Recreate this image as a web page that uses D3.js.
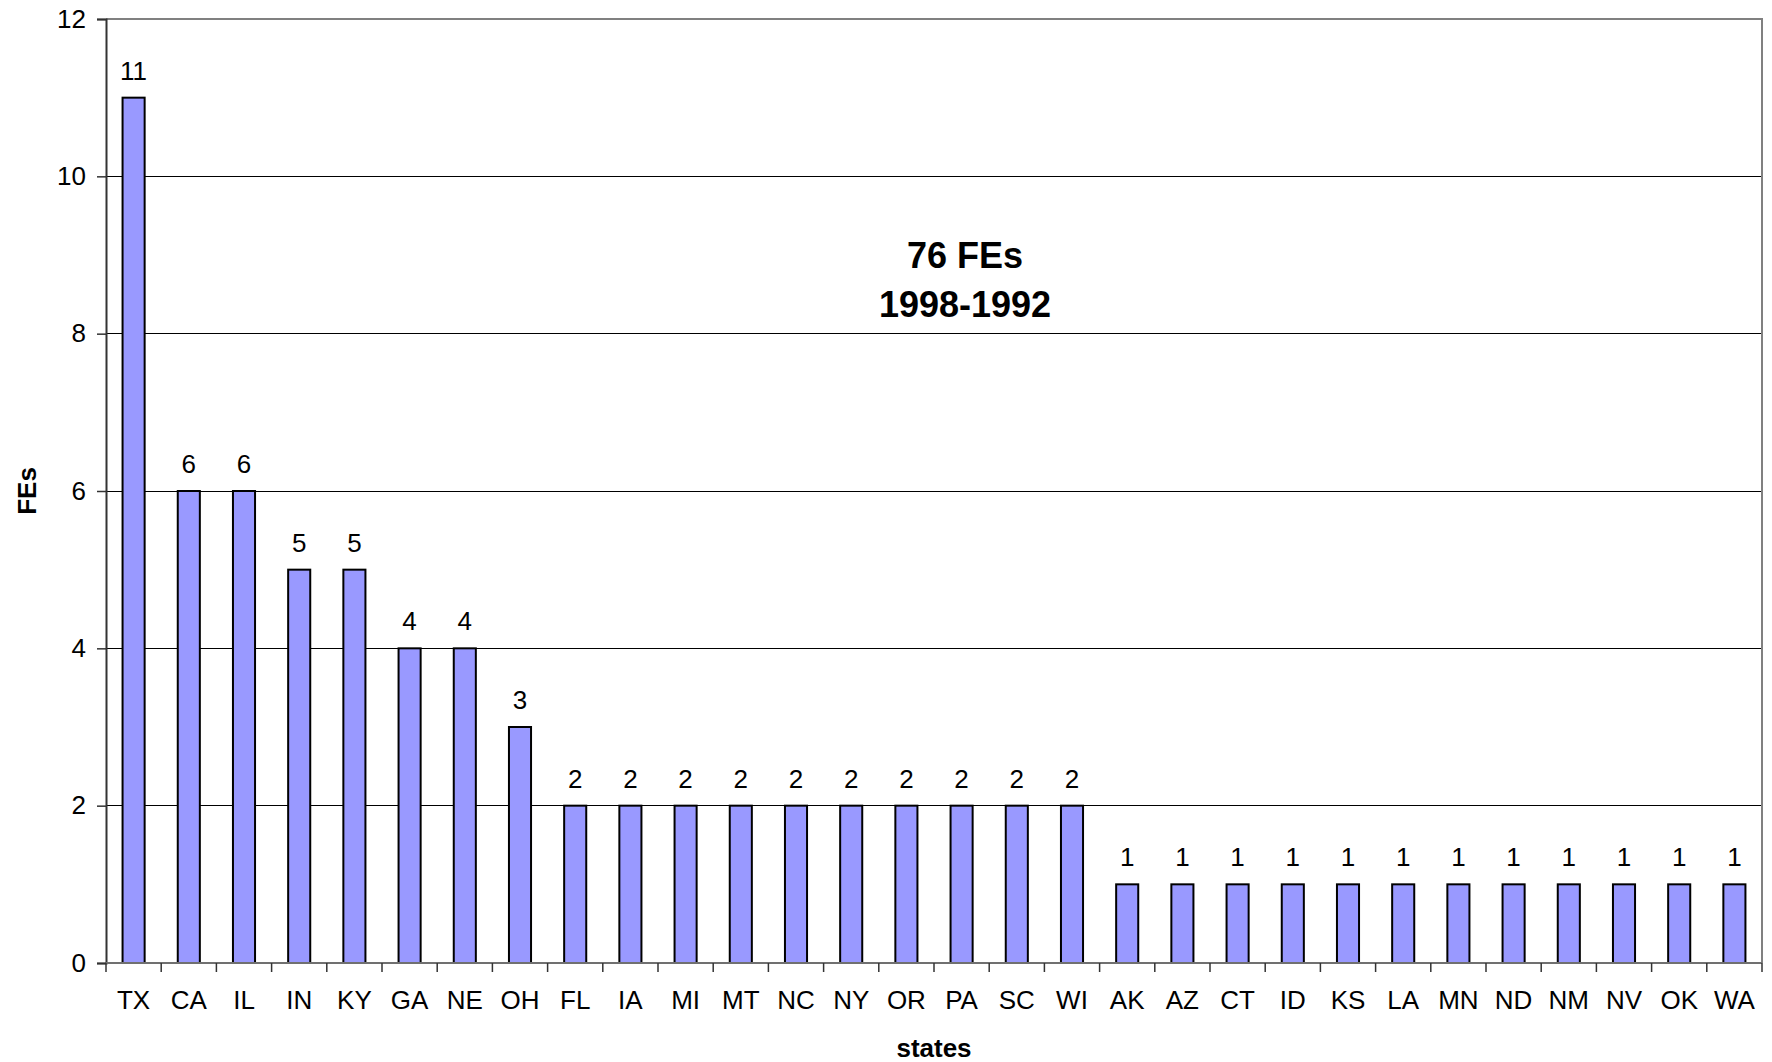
<!DOCTYPE html>
<html>
<head>
<meta charset="utf-8">
<script src="https://cdn.jsdelivr.net/npm/d3@7"></script>
<style>
  html, body { margin: 0; padding: 0; background: #fff; }
  svg { display: block; font-family: Arial, "Liberation Sans", sans-serif; }
</style>
</head>
<body>
<svg id="chart" width="1772" height="1062"></svg>
<script>
// data
const states = ["TX","CA","IL","IN","KY","GA","NE","OH","FL","IA","MI","MT","NC","NY","OR",
  "PA","SC","WI","AK","AZ","CT","ID","KS","LA","MN","ND","NM","NV","OK","WA"];
const counts = [11,6,6,5,5,4,4,3,2,2,2,2,2,2,2,2,2,2,1,1,1,1,1,1,1,1,1,1,1,1];
const yTicks = [0, 2, 4, 6, 8, 10, 12];
const titleLines = ["76 FEs", "1998-1992"];

const margin = { left: 106, right: 10, top: 19, bottom: 99 };
const width = 1772, height = 1062;

const svg = d3.select("#chart");

const x = d3.scaleBand()
  .domain(states)
  .range([margin.left, width - margin.right])
  .padding(0);

const y = d3.scaleLinear()
  .domain([0, 12])
  .range([height - margin.bottom, margin.top]);

const x0 = margin.left, x1 = width - margin.right;
const y0 = y(0), yTop = y(12);

// gridlines
svg.append("g")
  .selectAll("line")
  .data(yTicks.filter(d => d > 0 && d < 12))
  .join("line")
  .attr("x1", x0).attr("x2", x1)
  .attr("y1", d => y(d)).attr("y2", d => y(d))
  .attr("stroke", "#000")
  .attr("stroke-width", 1)
  .attr("shape-rendering", "crispEdges");

// top and right frame
svg.append("path")
  .attr("d", `M${x0},${yTop}H${x1}V${y0}`)
  .attr("fill", "none")
  .attr("stroke", "#808080")
  .attr("stroke-width", 2);

// bars
const bw = x.bandwidth() * 0.4;
svg.append("g")
  .selectAll("rect")
  .data(states)
  .join("rect")
  .attr("x", (d) => x(d) + (x.bandwidth() - bw) / 2)
  .attr("y", (d, i) => y(counts[i]))
  .attr("width", bw)
  .attr("height", (d, i) => y0 - y(counts[i]))
  .attr("fill", "#9999ff")
  .attr("stroke", "#000")
  .attr("stroke-width", 2);

// value labels
svg.append("g")
  .selectAll("text")
  .data(states)
  .join("text")
  .attr("x", (d) => x(d) + x.bandwidth() / 2)
  .attr("y", (d, i) => y(counts[i]) - 18)
  .attr("text-anchor", "middle")
  .attr("font-size", 26)
  .text((d, i) => counts[i]);

// y axis
const yAxis = svg.append("g")
  .attr("transform", `translate(${x0},0)`)
  .call(d3.axisLeft(y).tickValues(yTicks).tickSize(9).tickPadding(11));
yAxis.select(".domain").attr("stroke", "#333").attr("stroke-width", 2);
yAxis.selectAll(".tick line").attr("stroke", "#333").attr("stroke-width", 1.5);
yAxis.selectAll(".tick text")
  .attr("font-size", 26)
  .attr("font-family", "Arial, 'Liberation Sans', sans-serif")
  .attr("fill", "#000");

// x axis: ticks at band boundaries
const bounds = states.map(d => x(d)).concat([x1]);
svg.append("line")
  .attr("x1", x0).attr("x2", x1)
  .attr("y1", y0).attr("y2", y0)
  .attr("stroke", "#707070")
  .attr("stroke-width", 2);
svg.append("g")
  .selectAll("line")
  .data(bounds)
  .join("line")
  .attr("x1", d => d).attr("x2", d => d)
  .attr("y1", y0).attr("y2", y0 + 9)
  .attr("stroke", "#333")
  .attr("stroke-width", 1.5);

svg.append("g")
  .selectAll("text")
  .data(states)
  .join("text")
  .attr("x", (d) => x(d) + x.bandwidth() / 2)
  .attr("y", 1009)
  .attr("text-anchor", "middle")
  .attr("font-size", 26)
  .text(d => d);

// axis titles
svg.append("text")
  .attr("x", (x0 + x1) / 2)
  .attr("y", 1057)
  .attr("text-anchor", "middle")
  .attr("font-size", 26)
  .attr("font-weight", "bold")
  .text("states");

svg.append("text")
  .attr("transform", `translate(36,${(y0 + yTop) / 2}) rotate(-90)`)
  .attr("text-anchor", "middle")
  .attr("font-size", 26)
  .attr("font-weight", "bold")
  .text("FEs");

// centred annotation
svg.append("g")
  .selectAll("text")
  .data(titleLines)
  .join("text")
  .attr("x", 965)
  .attr("y", (d, i) => 268 + i * 49)
  .attr("text-anchor", "middle")
  .attr("font-size", 36)
  .attr("font-weight", "bold")
  .text(d => d);
</script>
</body>
</html>
